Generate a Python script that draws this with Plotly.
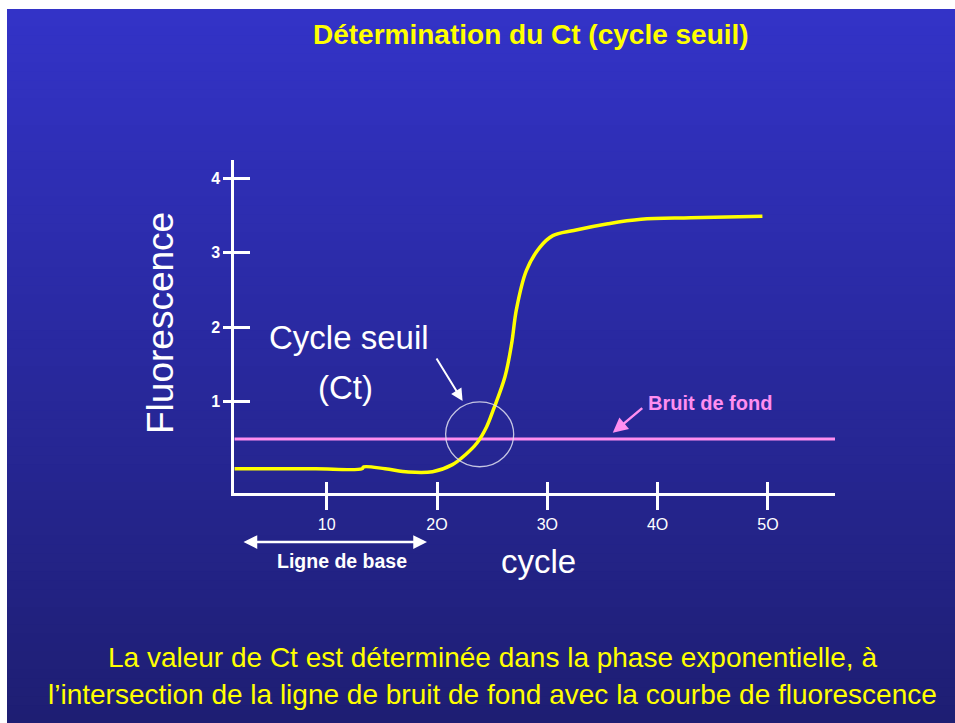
import plotly.graph_objects as go

# ---------------- data ----------------
cycles = [1.63, 5.0, 9.0, 13.2, 13.35, 15.3, 17.4, 19.6, 21.4, 22.55, 23.62, 24.5,
          25.1, 26.16, 26.77, 27.2, 28.1, 29.3, 30.5, 32.4, 35.5, 38.5, 43.0, 49.5]
fluorescence = [0.10, 0.10, 0.10, 0.10, 0.125, 0.10, 0.056, 0.06, 0.155, 0.285, 0.446, 0.665,
                0.89, 1.336, 1.785, 2.24, 2.76, 3.07, 3.23, 3.30, 3.39, 3.45, 3.47, 3.49]
threshold_value = 0.5
threshold_cycles = [1.63, 56.08]
x_tickvals = [10, 20, 30, 40, 50]
x_ticktext = ["10", "2O", "3O", "4O", "5O"]
y_tickvals = [1, 2, 3, 4]
y_ticktext = ["<b>1</b>", "<b>2</b>", "<b>3</b>", "<b>4</b>"]

W, H = 955, 723
FONT = "Arial, Liberation Sans, sans-serif"


def px(x):
    return x / W


def py(y):
    return 1 - y / H


x_range = [1.623, 56.08]
y_range = [-0.2296, 4.246]
x_dom = [px(234.3), px(835)]
y_dom = [py(493.3), py(160)]

fig = go.Figure()

fig.add_trace(go.Scatter(x=threshold_cycles, y=[threshold_value] * 2, mode="lines",
                         line=dict(color="#ff8ef0", width=3), hoverinfo="skip",
                         showlegend=False))
fig.add_trace(go.Scatter(x=cycles, y=fluorescence, mode="lines",
                         line=dict(color="#ffff00", width=3.5, shape="spline", smoothing=1.0),
                         showlegend=False))
# invisible traces to activate the secondary (inside-tick) axes
fig.add_trace(go.Scatter(x=[None], y=[None], xaxis="x2", yaxis="y", showlegend=False))
fig.add_trace(go.Scatter(x=[None], y=[None], xaxis="x", yaxis="y2", showlegend=False))

# background gradient: stacked rectangles, each reaching the bottom (no seams)
shapes = []
top_c = (51, 51, 200)
bot_c = (30, 30, 114)
n = 80
y0p, y1p = 9, 723
for i in range(n):
    f = (i + 0.5) / n
    c = tuple(round(top_c[k] + f * (bot_c[k] - top_c[k])) for k in range(3))
    ya = y0p + (y1p - y0p) * i / n
    shapes.append(dict(type="rect", xref="paper", yref="paper", x0=px(7), x1=1.01,
                       y0=-0.01, y1=py(ya), line=dict(width=0),
                       fillcolor="rgb(%d,%d,%d)" % c, layer="below"))

# circle around Ct
shapes.append(dict(type="circle", xref="x", yref="y", x0=20.78, x1=26.95, y0=0.127, y1=0.997,
                   line=dict(color="rgba(225,225,240,0.85)", width=1.3)))

axis_common = dict(showgrid=False, zeroline=False)
fig.update_layout(
    width=W, height=H,
    margin=dict(l=0, r=0, t=0, b=0),
    paper_bgcolor="white",
    plot_bgcolor="rgba(0,0,0,0)",
    shapes=shapes,
    xaxis=dict(domain=x_dom, range=x_range, anchor="y", showline=True, linecolor="white",
               linewidth=3, ticks="outside", ticklen=14, tickwidth=3, tickcolor="white",
               tickvals=x_tickvals, ticktext=x_ticktext,
               tickfont=dict(family=FONT, size=16, color="white"), **axis_common),
    xaxis2=dict(domain=x_dom, range=x_range, anchor="y", overlaying="x", showline=False,
                ticks="inside", ticklen=11, tickwidth=3, tickcolor="white",
                tickvals=x_tickvals, showticklabels=False, **axis_common),
    yaxis=dict(domain=y_dom, range=y_range, anchor="x", showline=True, linecolor="white",
               linewidth=3, ticks="outside", ticklen=8, tickwidth=3, tickcolor="white",
               tickvals=y_tickvals, ticktext=y_ticktext,
               tickfont=dict(family=FONT, size=16, color="white"), **axis_common),
    yaxis2=dict(domain=y_dom, range=y_range, anchor="x", overlaying="y", showline=False,
                ticks="inside", ticklen=16, tickwidth=3, tickcolor="white",
                tickvals=y_tickvals, showticklabels=False, **axis_common),
)


def txt(text, x, y, size, color="white", bold=False, angle=0):
    return dict(text=("<b>%s</b>" % text) if bold else text, x=px(x), y=py(y),
                xref="paper", yref="paper", xanchor="center", yanchor="middle",
                showarrow=False, textangle=angle,
                font=dict(family=FONT, size=size, color=color))


ann = [
    txt("Détermination du Ct (cycle seuil)", 531, 34, 28, "#ffff00", bold=True),
    txt("Fluorescence", 160, 323, 37, angle=-90),
    txt("Cycle seuil", 349, 337, 33),
    txt("(Ct)", 345, 387, 33),
    txt("cycle", 538, 561, 33),
    txt("Ligne de base", 342, 561, 19.5, bold=True),
    txt("Bruit de fond", 710, 403, 20, "#ff8ef0", bold=True),
    txt("La valeur de Ct est déterminée dans la phase exponentielle, à", 492, 657, 28, "#ffff00"),
    txt("l’intersection de la ligne de bruit de fond avec la courbe de fluorescence", 492, 694, 28, "#ffff00"),
]
# arrow to the Ct circle
ann.append(dict(x=22.32, y=1.01, xref="x", yref="y", ax=-27, ay=-44, text="",
                showarrow=True, arrowhead=2, arrowsize=1.2, arrowwidth=2, arrowcolor="white"))
# arrow to the background noise line
ann.append(dict(x=35.93, y=0.582, xref="x", yref="y", ax=31, ay=-26, text="",
                showarrow=True, arrowhead=2, arrowsize=1.2, arrowwidth=2.5, arrowcolor="#ff8ef0"))
# double arrow for the baseline
ann.append(dict(x=px(427), y=py(542), xref="paper", yref="paper", ax=-185, ay=0,
                text="", showarrow=True, arrowhead=2,
                startarrowhead=2, arrowside="end+start", arrowsize=1.1, arrowwidth=2.5,
                arrowcolor="white"))
fig.update_layout(annotations=ann)

fig.write_html("out.html", config={"displayModeBar": False},
               post_script="document.body.style.margin='0px';document.body.style.overflow='hidden';")
